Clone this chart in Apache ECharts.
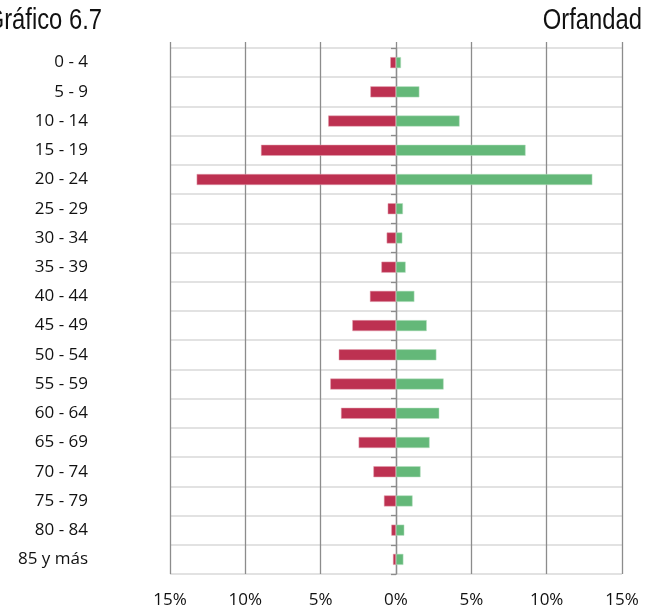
<!DOCTYPE html>
<html>
<head>
    <meta charset="utf-8">
    <title>Gráfico 6.7</title>
    <style>
        html, body { margin: 0; padding: 0; background: #fff; }
        #container { width: 657px; height: 611px; }
    </style>
</head>
<body>
    <div id="container"></div>
    <script src="https://cdn.jsdelivr.net/npm/echarts@6/dist/echarts.min.js"></script>
    <script type="text/javascript">
        // grupos de edad (de arriba hacia abajo)
        var grupos = ['0 - 4', '5 - 9', '10 - 14', '15 - 19', '20 - 24', '25 - 29', '30 - 34', '35 - 39',
            '40 - 44', '45 - 49', '50 - 54', '55 - 59', '60 - 64', '65 - 69', '70 - 74', '75 - 79',
            '80 - 84', '85 y más'];
        // porcentaje, lado izquierdo (rojo)
        var hombres = [0.38, 1.7, 4.5, 8.96, 13.23, 0.55, 0.62, 0.97, 1.73, 2.9, 3.8, 4.36, 3.65, 2.48, 1.5, 0.8, 0.31, 0.2];
        // porcentaje, lado derecho (verde)
        var mujeres = [0.33, 1.55, 4.22, 8.6, 13.03, 0.46, 0.42, 0.64, 1.22, 2.04, 2.68, 3.16, 2.87, 2.23, 1.63, 1.1, 0.55, 0.49];
        var ticksX = [-15, -10, -5, 0, 5, 10, 15];

        var dom = document.getElementById('container'),
            myChart = echarts.init(dom, null, { renderer: 'canvas' });

        var fontTxt = "'Open Sans', Lato, sans-serif";
        // no hay Arial Narrow: se estrecha Liberation Sans a mano
        var fontTit = "'Liberation Sans', Arial, sans-serif";

        var option = {
            animation: false,
            graphic: [
                {
                    type: 'text', x: 102, y: 21, scaleX: 0.82,
                    style: { text: 'Gráfico 6.7', font: '29px ' + fontTit, fill: '#111',
                        textAlign: 'right', textVerticalAlign: 'middle' }
                },
                {
                    type: 'text', x: 642, y: 21, scaleX: 0.82,
                    style: { text: 'Orfandad', font: '29px ' + fontTit, fill: '#111',
                        textAlign: 'right', textVerticalAlign: 'middle' }
                }
            ],
            grid: { left: 170, right: 35, top: 48, bottom: 37, containLabel: false },
            xAxis: [
                {
                    type: 'value', min: ticksX[0], max: ticksX[ticksX.length - 1], interval: 5,
                    position: 'bottom',
                    axisLine: { show: false },
                    axisTick: { show: false },
                    splitLine: { show: true, lineStyle: { color: '#8c8c8c', width: 1.3 } },
                    axisLabel: {
                        margin: 18, fontFamily: fontTxt, fontSize: 17, color: '#111',
                        formatter: function (v) { return Math.abs(v) + '%'; }
                    }
                },
                {
                    // marcas cortas sobre el borde superior
                    type: 'value', min: ticksX[0], max: ticksX[ticksX.length - 1], interval: 5,
                    position: 'top',
                    axisLine: { show: false },
                    axisTick: { show: true, length: 6, lineStyle: { color: '#8c8c8c', width: 1.3 } },
                    axisLabel: { show: false },
                    splitLine: { show: false }
                }
            ],
            yAxis: [
                {
                    type: 'category', data: grupos, inverse: true,
                    axisLine: { show: false },
                    axisTick: { show: false },
                    splitLine: { show: true, lineStyle: { color: '#d9d9d9', width: 1.5 } },
                    axisLabel: { margin: 82, fontFamily: fontTxt, fontSize: 17, color: '#111' }
                },
                {
                    // eje en el 0 con sus marcas
                    type: 'category', data: grupos, inverse: true, position: 'left',
                    axisLine: { show: true, onZero: true, lineStyle: { color: '#8c8c8c', width: 1.3 } },
                    axisTick: { show: true, length: 5, lineStyle: { color: '#8c8c8c', width: 1.3 } },
                    axisLabel: { show: false },
                    splitLine: { show: false }
                }
            ],
            series: [
                {
                    name: 'Izquierda', type: 'bar', barWidth: 11, barGap: '-100%',
                    itemStyle: { color: '#bd3151', borderColor: '#e3a3b1', borderWidth: 0.5 },
                    data: hombres.map(function (v) { return -v; })
                },
                {
                    name: 'Derecha', type: 'bar', barWidth: 11, barGap: '-100%',
                    itemStyle: { color: '#64b879', borderColor: '#b9e0c2', borderWidth: 0.5 },
                    data: mujeres
                }
            ]
        };
        if (option && typeof option === 'object') {
            myChart.setOption(option, true);
        }
    </script>
</body>
</html>
